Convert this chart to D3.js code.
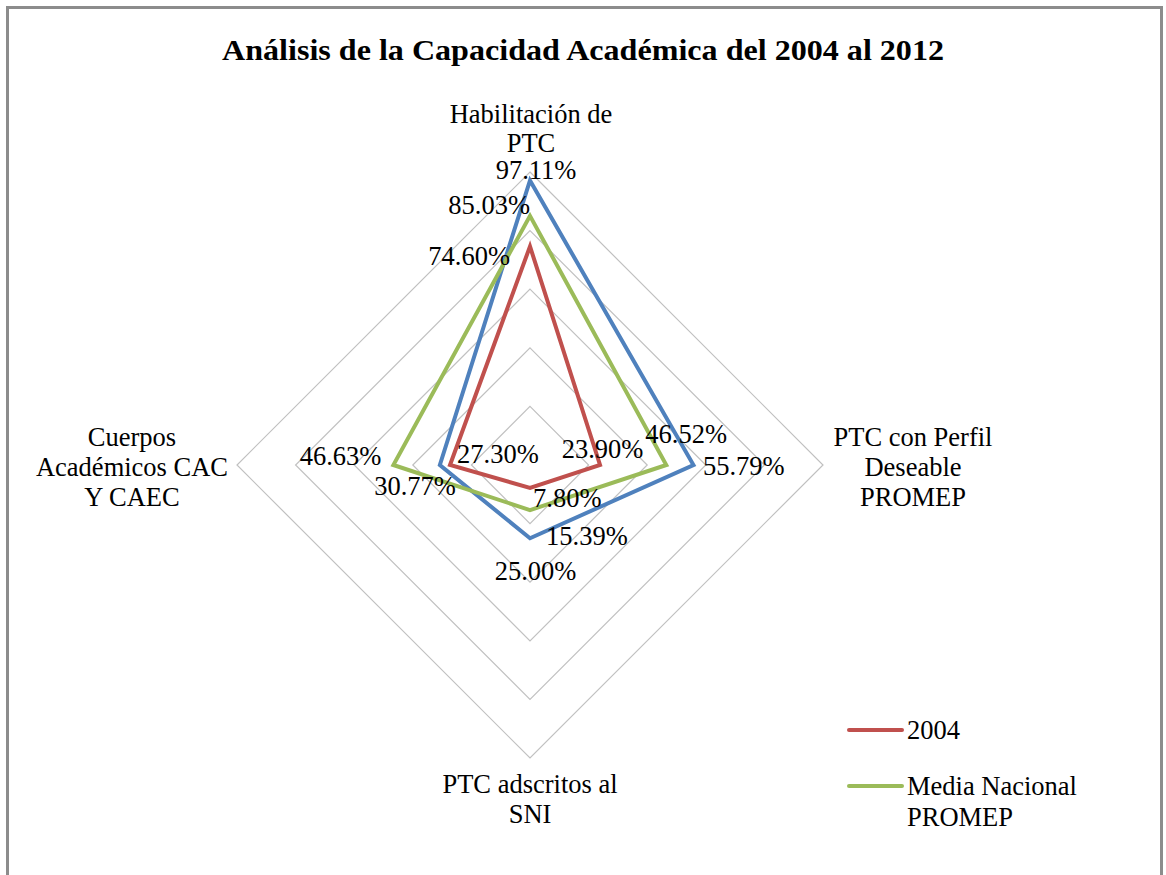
<!DOCTYPE html>
<html>
<head>
<meta charset="utf-8">
<script src="https://cdn.jsdelivr.net/npm/d3@7"></script>
<style>
  html, body { margin: 0; padding: 0; background: #fff; }
  svg text { font-family: "Liberation Serif", "Times New Roman", serif; fill: #000; }
</style>
</head>
<body>
<svg id="chart" width="1166" height="875" font-family="Liberation Serif, serif"></svg>
<script>
// ---- data ----
const title = "Análisis de la Capacidad Académica del 2004 al 2012";
const categories = [
  ["Habilitación de", "PTC"],
  ["PTC con Perfil", "Deseable", "PROMEP"],
  ["PTC adscritos al", "SNI"],
  ["Cuerpos", "Académicos CAC", "Y CAEC"]
];
const seriesNames = ["2012", "2004", "Media Nacional PROMEP"];
const values2012 = [0.9711, 0.5579, 0.2500, 0.3077];
const values2004 = [0.7460, 0.2390, 0.0780, 0.2730];
const valuesMedia = [0.8503, 0.4652, 0.1539, 0.4663];
const gridTicks = [0.2, 0.4, 0.6, 0.8, 1.0];
const legendItems = [["2004"], ["Media Nacional", "PROMEP"]];

// ---- layout / style ----
const colors = { "2012": "#4F81BD", "2004": "#C0504D", "Media Nacional PROMEP": "#9BBB59" };
const cx = 530, cy = 465, R = 293;
const FS = 26.5;
// label offsets (dx, dy, anchor) relative to each point, per series, per axis
const labelLayout = {
  "2012": [[6, -1, "middle"], [9.5, 10, "start"], [5.5, 42, "middle"], [16, 30, "end"]],
  "2004": [[-20, 19, "end"], [2.5, -7, "middle"], [3, 19, "start"], [7, -2, "start"]],
  "Media Nacional PROMEP": [[0, -2, "end"], [-21, -22, "start"], [16, 35, "start"], [-12, 0, "end"]]
};

const svg = d3.select("#chart");
const fmt = d3.format(".2%");

// frame
svg.append("rect").attr("x", 7.5).attr("y", 7.5).attr("width", 1154).attr("height", 900)
  .attr("fill", "#fff").attr("stroke", "#8c8c8c").attr("stroke-width", 3);

// title
svg.append("text").attr("x", 583).attr("y", 60).attr("text-anchor", "middle")
  .style("font-size", "30px").style("font-weight", "bold")
  .attr("textLength", 722).attr("lengthAdjust", "spacingAndGlyphs")
  .text(title);

const r = d3.scaleLinear().domain([0, 1]).range([0, R]);
const angle = d3.scaleLinear().domain([0, categories.length]).range([0, 2 * Math.PI]);
const pt = (v, i) => [cx + r(v) * Math.sin(angle(i)), cy - r(v) * Math.cos(angle(i))];

const line = d3.line().curve(d3.curveLinearClosed);

// grid
svg.append("g").selectAll("path").data(gridTicks).join("path")
  .attr("d", t => line(categories.map((c, i) => pt(t, i))))
  .attr("fill", "none").attr("stroke", "#c0c0c0").attr("stroke-width", 1.2);

// series
const series = [
  { name: "2012", values: values2012 },
  { name: "Media Nacional PROMEP", values: valuesMedia },
  { name: "2004", values: values2004 }
];
svg.append("g").selectAll("path").data(series).join("path")
  .attr("d", s => line(s.values.map((v, i) => pt(v, i))))
  .attr("fill", "none").attr("stroke", s => colors[s.name])
  .attr("stroke-width", 4).attr("stroke-linejoin", "miter");

// data labels
const labG = svg.append("g");
series.forEach(s => {
  s.values.forEach((v, i) => {
    const [x, y] = pt(v, i);
    const [dx, dy, anchor] = labelLayout[s.name][i];
    labG.append("text").attr("x", x + dx).attr("y", y + dy)
      .attr("text-anchor", anchor).style("font-size", FS + "px").text(fmt(v));
  });
});

// category labels
const catPos = [[531, 123, "middle"], [913, 446, "middle"], [530, 793, "middle"], [132, 446, "middle"]];
const catLead = [29, 30, 30, 30];
categories.forEach((lines, i) => {
  const [x, y, a] = catPos[i];
  const t = svg.append("text").attr("x", x).attr("y", y).attr("text-anchor", a).style("font-size", FS + "px");
  lines.forEach((l, j) => t.append("tspan").attr("x", x).attr("dy", j === 0 ? 0 : catLead[i]).text(l));
});

// legend
const legendColors = [colors["2004"], colors["Media Nacional PROMEP"]];
const legY = [730, 786];
legendItems.forEach((lines, k) => {
  svg.append("line").attr("x1", 849).attr("x2", 902).attr("y1", legY[k]).attr("y2", legY[k])
    .attr("stroke", legendColors[k]).attr("stroke-width", 4).attr("stroke-linecap", "round");
  const t = svg.append("text").attr("x", 907).attr("y", legY[k] + 9).style("font-size", FS + "px");
  lines.forEach((l, j) => t.append("tspan").attr("x", 907).attr("dy", j === 0 ? 0 : 31).text(l));
});
</script>
</body>
</html>
